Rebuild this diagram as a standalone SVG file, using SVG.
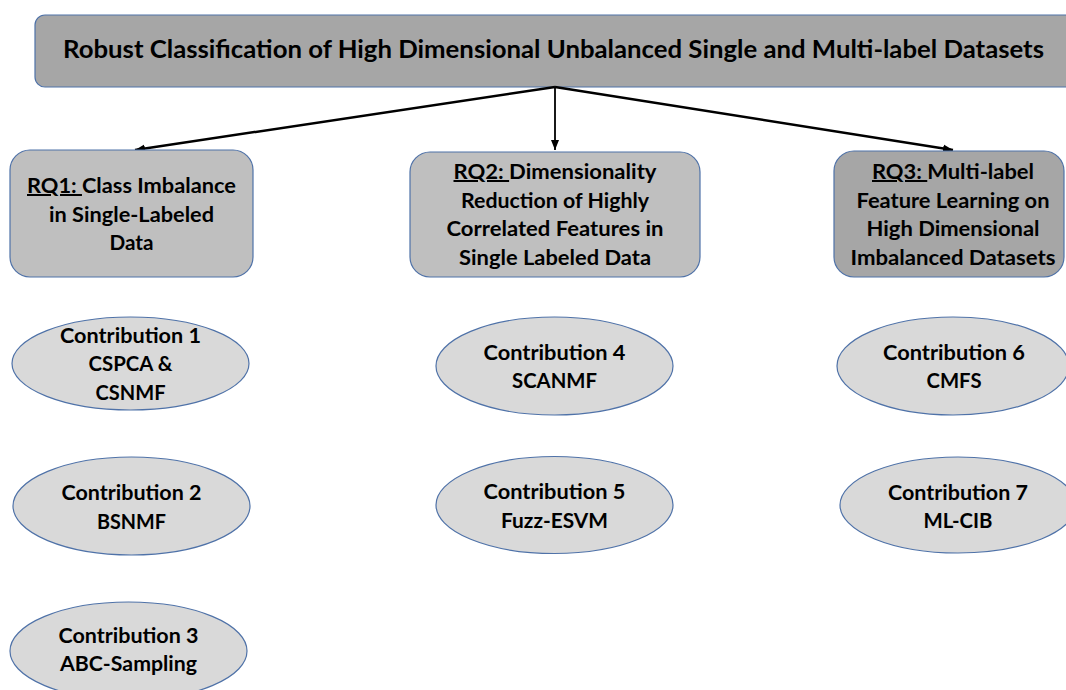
<svg xmlns="http://www.w3.org/2000/svg" width="1066" height="690" viewBox="0 0 1066 690">
  <style>
    .lbl { font-family: "Lato", "Liberation Sans", sans-serif; font-weight: bold; fill: #000; text-anchor: middle; }
    .t20 { font-size: 20px; }
    .title { font-size: 25px; }
    .u { text-decoration: underline; }
    .box { stroke: #4f72a8; stroke-width: 1.2; }
    .rq { fill: #bfbfbf; }
    .rqdark { fill: #a6a6a6; }
    .ell { fill: #d9d9d9; stroke: #4f72a8; stroke-width: 1.2; }
    .conn { stroke: #000; fill: none; }
  </style>
  <defs>
    <marker id="arrow" markerUnits="userSpaceOnUse" markerWidth="12" markerHeight="10" refX="10" refY="5" orient="auto">
      <path d="M0,1 L10,5 L0,9 Z" fill="#000"/>
    </marker>
  </defs>
  <rect width="1066" height="690" fill="#fff"/>

  <!-- root problem -->
  <g id="root">
    <rect class="box rqdark" x="35" y="15" width="1045" height="72" rx="10"/>
    <text class="lbl title" x="553.5" y="58" textLength="981" lengthAdjust="spacingAndGlyphs">Robust Classification of High Dimensional Unbalanced Single and Multi-label Datasets</text>
  </g>

  <!-- connectors -->
  <g id="connectors">
    <line class="conn" x1="555" y1="87" x2="135" y2="150" stroke-width="2.5" marker-end="url(#arrow)"/>
    <line class="conn" x1="555" y1="87" x2="555" y2="150" stroke-width="1.8" marker-end="url(#arrow)"/>
    <line class="conn" x1="555" y1="87" x2="953" y2="150" stroke-width="2.5" marker-end="url(#arrow)"/>
  </g>

  <!-- research questions -->
  <g id="rq1">
    <rect class="box rq" x="10" y="150" width="243" height="127" rx="20"/>
    <text class="lbl t20" x="131.5" y="193" textLength="209" lengthAdjust="spacingAndGlyphs"><tspan class="u">RQ1: </tspan>Class Imbalance</text>
    <text class="lbl t20" x="131.5" y="221.5" textLength="165" lengthAdjust="spacingAndGlyphs">in Single-Labeled</text>
    <text class="lbl t20" x="131.5" y="250" textLength="44" lengthAdjust="spacingAndGlyphs">Data</text>
  </g>
  <g id="rq2">
    <rect class="box rq" x="410" y="152" width="290" height="125" rx="20"/>
    <text class="lbl t20" x="555" y="179" textLength="203" lengthAdjust="spacingAndGlyphs"><tspan class="u">RQ2: </tspan>Dimensionality</text>
    <text class="lbl t20" x="555" y="207.5" textLength="188" lengthAdjust="spacingAndGlyphs">Reduction of Highly</text>
    <text class="lbl t20" x="555" y="236" textLength="217" lengthAdjust="spacingAndGlyphs">Correlated Features in</text>
    <text class="lbl t20" x="555" y="264.5" textLength="192" lengthAdjust="spacingAndGlyphs">Single Labeled Data</text>
  </g>
  <g id="rq3">
    <rect class="box rqdark" x="834" y="151" width="230" height="126" rx="20"/>
    <text class="lbl t20" x="953" y="179" textLength="162" lengthAdjust="spacingAndGlyphs"><tspan class="u">RQ3: </tspan>Multi-label</text>
    <text class="lbl t20" x="953" y="207.5" textLength="193" lengthAdjust="spacingAndGlyphs">Feature Learning on</text>
    <text class="lbl t20" x="953" y="236" textLength="173" lengthAdjust="spacingAndGlyphs">High Dimensional</text>
    <text class="lbl t20" x="953" y="264.5" textLength="205" lengthAdjust="spacingAndGlyphs">Imbalanced Datasets</text>
  </g>

  <!-- contributions -->
  <g id="c1">
    <ellipse class="ell" cx="130.5" cy="363.5" rx="118.5" ry="46.5"/>
    <text class="lbl t20" x="130.5" y="342.5" textLength="141" lengthAdjust="spacingAndGlyphs">Contribution 1</text>
    <text class="lbl t20" x="130.5" y="371" textLength="84" lengthAdjust="spacingAndGlyphs">CSPCA &amp;</text>
    <text class="lbl t20" x="130.5" y="399.5" textLength="70" lengthAdjust="spacingAndGlyphs">CSNMF</text>
  </g>
  <g id="c2">
    <ellipse class="ell" cx="131.5" cy="506" rx="118.5" ry="49"/>
    <text class="lbl t20" x="131.5" y="500" textLength="140" lengthAdjust="spacingAndGlyphs">Contribution 2</text>
    <text class="lbl t20" x="131.5" y="528.5" textLength="69" lengthAdjust="spacingAndGlyphs">BSNMF</text>
  </g>
  <g id="c3">
    <ellipse class="ell" cx="128.5" cy="651" rx="118.5" ry="49"/>
    <text class="lbl t20" x="128.5" y="643" textLength="140" lengthAdjust="spacingAndGlyphs">Contribution 3</text>
    <text class="lbl t20" x="128.5" y="671" textLength="137" lengthAdjust="spacingAndGlyphs">ABC-Sampling</text>
  </g>
  <g id="c4">
    <ellipse class="ell" cx="554.5" cy="366" rx="118.5" ry="49"/>
    <text class="lbl t20" x="554.5" y="360" textLength="142" lengthAdjust="spacingAndGlyphs">Contribution 4</text>
    <text class="lbl t20" x="554.5" y="388" textLength="85" lengthAdjust="spacingAndGlyphs">SCANMF</text>
  </g>
  <g id="c5">
    <ellipse class="ell" cx="554.5" cy="505" rx="118.5" ry="48.5"/>
    <text class="lbl t20" x="554.5" y="499" textLength="142" lengthAdjust="spacingAndGlyphs">Contribution 5</text>
    <text class="lbl t20" x="554.5" y="527.5" textLength="107" lengthAdjust="spacingAndGlyphs">Fuzz-ESVM</text>
  </g>
  <g id="c6">
    <ellipse class="ell" cx="953" cy="366" rx="116" ry="49"/>
    <text class="lbl t20" x="954" y="360" textLength="142" lengthAdjust="spacingAndGlyphs">Contribution 6</text>
    <text class="lbl t20" x="954" y="388" textLength="55" lengthAdjust="spacingAndGlyphs">CMFS</text>
  </g>
  <g id="c7">
    <ellipse class="ell" cx="958" cy="505" rx="118" ry="48"/>
    <text class="lbl t20" x="958" y="500" textLength="140" lengthAdjust="spacingAndGlyphs">Contribution 7</text>
    <text class="lbl t20" x="958" y="528" textLength="69" lengthAdjust="spacingAndGlyphs">ML-CIB</text>
  </g>
</svg>
